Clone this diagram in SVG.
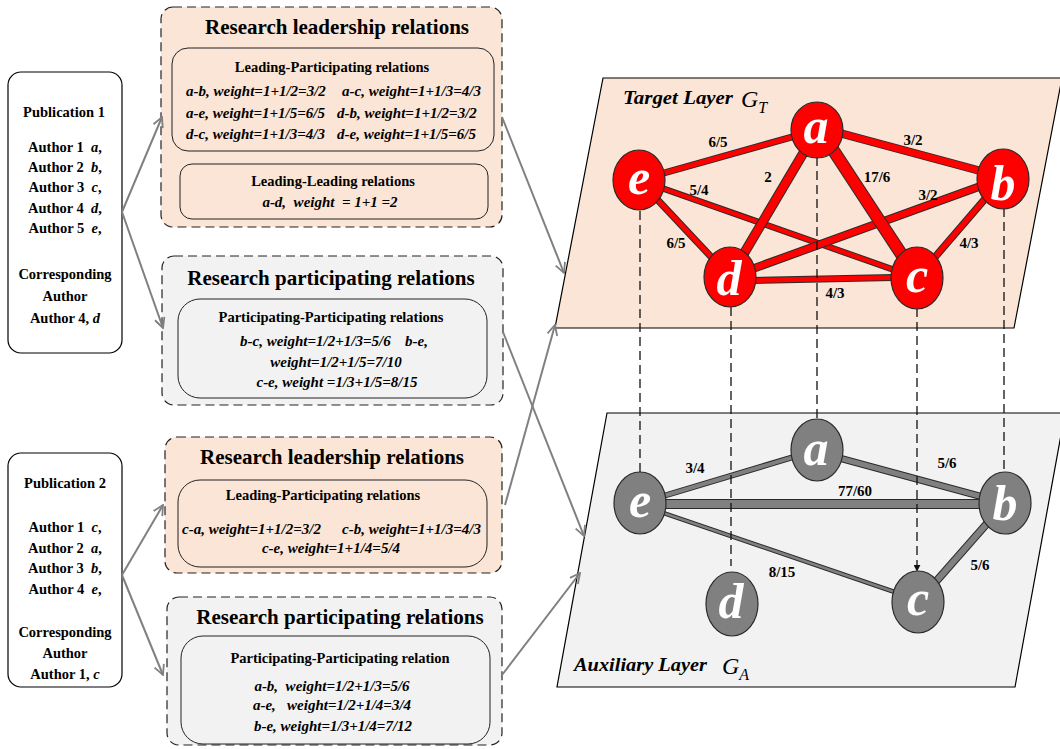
<svg xmlns="http://www.w3.org/2000/svg" width="1060" height="749" viewBox="0 0 1060 749">
<style>
.t{font-family:"Liberation Serif","Times New Roman",serif;font-weight:bold;fill:#000}
.c{text-anchor:middle}
.h{font-size:21px}
.s{font-size:14.5px}
.w{font-size:15px;font-style:italic}
.p{font-size:14.5px}
.it{font-style:italic}
.ob{stroke:#222;stroke-width:1.2;stroke-dasharray:9 5}
.peach{fill:#fbe5d6}
.gr{fill:#f2f2f2}
.inner{fill:none;stroke:#222;stroke-width:1}
.pub{fill:#fff;stroke:#000;stroke-width:1.2}
.arr{stroke:#808080;stroke-width:2;fill:none;marker-end:url(#oa)}
.dash{stroke:#111;stroke-width:1.3;stroke-dasharray:9 5;fill:none}
.layer{stroke:#000;stroke-width:1.2}
.eo{stroke:#2a2a2a;stroke-linecap:butt}
.er{stroke:#ff0000;stroke-linecap:butt}
.eg{stroke:#808080;stroke-linecap:butt}
.lbl{font-size:15px}
.nr{fill:#ff0000;stroke:#2a2a2a;stroke-width:1.2}
.ng{fill:#808080;stroke:#2a2a2a;stroke-width:1.2}
.nl{font-family:"Liberation Serif","Times New Roman",serif;font-weight:bold;font-style:italic;font-size:50px;fill:#fff;text-anchor:middle}
.ll{font-size:19px;font-style:italic}
.gm{font-family:"Liberation Serif","Times New Roman",serif;font-style:italic;fill:#000}
</style>
<defs>
<marker id="oa" viewBox="0 0 12 12" refX="11" refY="6" markerWidth="12" markerHeight="12" markerUnits="userSpaceOnUse" orient="auto">
<path d="M1,1 L11,6 L1,11" fill="none" stroke="#808080" stroke-width="1.8"/>
</marker>
<marker id="fa" viewBox="0 0 10 10" refX="9" refY="5" markerWidth="7" markerHeight="7" markerUnits="userSpaceOnUse" orient="auto">
<path d="M0,0 L10,5 L0,10 z" fill="#111"/>
</marker>
</defs>
<rect width="1060" height="749" fill="#fff"/>

<!-- layers -->
<g id="target-layer">
<polygon class="layer" points="603,78 1062,78 1014,328 555,328" fill="#fbe5d6"/>
<text class="t ll" x="623" y="104" textLength="110" lengthAdjust="spacingAndGlyphs">Target Layer</text>
<text class="gm" x="741" y="107" font-size="24">G<tspan font-size="16" dy="6">T</tspan></text>
</g>
<g id="auxiliary-layer">
<polygon class="layer" points="607,413 1065,413 1015,687 557,687" fill="#f2f2f2"/>
<text class="t ll" x="574" y="671" textLength="133" lengthAdjust="spacingAndGlyphs">Auxiliary Layer</text>
<text class="gm" x="722" y="674" font-size="24">G<tspan font-size="16" dy="6">A</tspan></text>
</g>

<!-- publication boxes -->
<g id="pub1">
<rect class="pub" x="8" y="72" width="114" height="281" rx="13"/>
<text class="t p c" x="64" y="117">Publication 1</text>
<text class="t p c" x="65" y="152" xml:space="preserve">Author 1  <tspan class="it">a</tspan>,</text>
<text class="t p c" x="65" y="172" xml:space="preserve">Author 2  <tspan class="it">b</tspan>,</text>
<text class="t p c" x="65" y="192" xml:space="preserve">Author 3  <tspan class="it">c</tspan>,</text>
<text class="t p c" x="65" y="213" xml:space="preserve">Author 4  <tspan class="it">d</tspan>,</text>
<text class="t p c" x="65" y="233" xml:space="preserve">Author 5  <tspan class="it">e</tspan>,</text>
<text class="t p c" x="65" y="279">Corresponding</text>
<text class="t p c" x="65" y="301">Author</text>
<text class="t p c" x="65" y="323">Author 4, <tspan class="it">d</tspan></text>
</g>
<g id="pub2">
<rect class="pub" x="8" y="453" width="114" height="234" rx="13"/>
<text class="t p c" x="65" y="488">Publication 2</text>
<text class="t p c" x="65" y="532" xml:space="preserve">Author 1  <tspan class="it">c</tspan>,</text>
<text class="t p c" x="65" y="553" xml:space="preserve">Author 2  <tspan class="it">a</tspan>,</text>
<text class="t p c" x="65" y="573" xml:space="preserve">Author 3  <tspan class="it">b</tspan>,</text>
<text class="t p c" x="65" y="594" xml:space="preserve">Author 4  <tspan class="it">e</tspan>,</text>
<text class="t p c" x="65" y="637">Corresponding</text>
<text class="t p c" x="65" y="658">Author</text>
<text class="t p c" x="65" y="679">Author 1, <tspan class="it">c</tspan></text>
</g>

<!-- relation boxes -->
<g id="lead1">
<rect class="ob peach" x="161" y="7" width="341" height="220" rx="12"/>
<text class="t h c" x="337" y="34">Research leadership relations</text>
<rect class="inner" x="172" y="48" width="322" height="103" rx="16"/>
<text class="t s c" x="332" y="72">Leading-Participating relations</text>
<text class="t w" x="186" y="96">a-b, weight=1+1/2=3/2</text>
<text class="t w" x="342" y="96">a-c, weight=1+1/3=4/3</text>
<text class="t w" x="186" y="118">a-e, weight=1+1/5=6/5</text>
<text class="t w" x="337" y="118">d-b, weight=1+1/2=3/2</text>
<text class="t w" x="186" y="139">d-c, weight=1+1/3=4/3</text>
<text class="t w" x="337" y="139">d-e, weight=1+1/5=6/5</text>
<rect class="inner" x="180" y="164" width="308" height="55" rx="12"/>
<text class="t s c" x="333" y="186">Leading-Leading relations</text>
<text class="t w c" x="330" y="207" xml:space="preserve">a-d,  weight  = 1+1 =2</text>
</g>
<g id="part1">
<rect class="ob gr" x="162" y="256" width="341" height="149" rx="12"/>
<text class="t h c" x="331" y="285">Research participating relations</text>
<rect class="inner" x="178" y="299" width="309" height="99" rx="22"/>
<text class="t s c" x="331" y="322">Participating-Participating relations</text>
<text class="t w" x="240" y="346">b-c, weight=1/2+1/3=5/6</text>
<text class="t w" x="405" y="346">b-e,</text>
<text class="t w c" x="336" y="367">weight=1/2+1/5=7/10</text>
<text class="t w c" x="337" y="387">c-e, weight =1/3+1/5=8/15</text>
</g>
<g id="lead2">
<rect class="ob peach" x="165" y="437" width="337" height="136" rx="12"/>
<text class="t h c" x="332" y="464">Research leadership relations</text>
<rect class="inner" x="178" y="480" width="309" height="87" rx="22"/>
<text class="t s c" x="323" y="500">Leading-Participating relations</text>
<text class="t w" x="182" y="534">c-a, weight=1+1/2=3/2</text>
<text class="t w" x="342" y="534">c-b, weight=1+1/3=4/3</text>
<text class="t w c" x="331" y="553">c-e, weight=1+1/4=5/4</text>
</g>
<g id="part2">
<rect class="ob gr" x="167" y="597" width="335" height="148" rx="12"/>
<text class="t h c" x="340" y="624">Research participating relations</text>
<rect class="inner" x="181" y="636" width="309" height="108" rx="22"/>
<text class="t s c" x="340" y="663">Participating-Participating relation</text>
<text class="t w c" x="332" y="691" xml:space="preserve">a-b,  weight=1/2+1/3=5/6</text>
<text class="t w c" x="332" y="710" xml:space="preserve">a-e,   weight=1/2+1/4=3/4</text>
<text class="t w c" x="333" y="731">b-e, weight=1/3+1/4=7/12</text>
</g>

<!-- connectors -->
<g id="connectors">
<line class="arr" x1="122" y1="212" x2="162" y2="117"/>
<line class="arr" x1="122" y1="212" x2="163" y2="328"/>
<line class="arr" x1="122" y1="575" x2="163" y2="505"/>
<line class="arr" x1="122" y1="575" x2="163" y2="675"/>
<line class="arr" x1="502" y1="117" x2="564" y2="273"/>
<line class="arr" x1="503" y1="332" x2="584" y2="536"/>
<line class="arr" x1="505" y1="505" x2="555" y2="325"/>
<line class="arr" x1="502" y1="675" x2="580" y2="573"/>

<!-- target edges -->
<g id="t-edges">
<line class="eo" x1="817" y1="130" x2="639" y2="180" stroke-width="7"/><line class="er" x1="817" y1="130" x2="639" y2="180" stroke-width="5"/>
<line class="eo" x1="817" y1="127" x2="1003" y2="177" stroke-width="8.5"/><line class="er" x1="817" y1="127" x2="1003" y2="177" stroke-width="6.5"/>
<line class="eo" x1="639" y1="180" x2="917" y2="278" stroke-width="6.5"/><line class="er" x1="639" y1="180" x2="917" y2="278" stroke-width="4.5"/>
<line class="eo" x1="639" y1="180" x2="730" y2="277" stroke-width="7"/><line class="er" x1="639" y1="180" x2="730" y2="277" stroke-width="5"/>
<line class="eo" x1="730" y1="277" x2="1003" y2="178" stroke-width="8.5"/><line class="er" x1="730" y1="277" x2="1003" y2="178" stroke-width="6.5"/>
<line class="eo" x1="1003" y1="178" x2="917" y2="278" stroke-width="7.5"/><line class="er" x1="1003" y1="178" x2="917" y2="278" stroke-width="5.5"/>
<line class="eo" x1="730" y1="281" x2="917" y2="277" stroke-width="7"/><line class="er" x1="730" y1="281" x2="917" y2="277" stroke-width="5"/>
<line class="eo" x1="817" y1="130" x2="730" y2="277" stroke-width="10"/><line class="er" x1="817" y1="130" x2="730" y2="277" stroke-width="8"/>
<line class="eo" x1="820" y1="130" x2="917" y2="278" stroke-width="13"/><line class="er" x1="820" y1="130" x2="917" y2="278" stroke-width="11"/>
</g>
<!-- auxiliary edges -->
<g id="a-edges">
<line class="eo" x1="817" y1="450" x2="640" y2="503" stroke-width="6"/><line class="eg" x1="817" y1="450" x2="640" y2="503" stroke-width="4"/>
<line class="eo" x1="817" y1="452" x2="1005" y2="503" stroke-width="7"/><line class="eg" x1="817" y1="452" x2="1005" y2="503" stroke-width="5"/>
<line class="eo" x1="640" y1="504" x2="1005" y2="504" stroke-width="10"/><line class="eg" x1="640" y1="504" x2="1005" y2="504" stroke-width="8"/>
<line class="eo" x1="640" y1="505" x2="918" y2="600" stroke-width="4.5"/><line class="eg" x1="640" y1="505" x2="918" y2="600" stroke-width="2.5"/>
<line class="eo" x1="1005" y1="503" x2="918" y2="602" stroke-width="8"/><line class="eg" x1="1005" y1="503" x2="918" y2="602" stroke-width="6"/>
</g>
<!-- inter-layer dashed links -->
<g id="links">
<line class="dash" x1="640" y1="211" x2="640" y2="472"/>
<line class="dash" x1="731" y1="307" x2="731" y2="566"/>
<line class="dash" x1="817" y1="157" x2="817" y2="419"/>
<line class="dash" x1="917" y1="308" x2="917" y2="571" marker-end="url(#fa)"/>
<line class="dash" x1="1004" y1="208" x2="1004" y2="472"/>
</g>
</g>

<!-- edge labels -->
<g id="edge-labels">
<text class="t lbl c" x="718" y="147">6/5</text>
<text class="t lbl c" x="913" y="145">3/2</text>
<text class="t lbl c" x="768" y="182">2</text>
<text class="t lbl c" x="877" y="182">17/6</text>
<text class="t lbl c" x="699" y="195">5/4</text>
<text class="t lbl c" x="928" y="200">3/2</text>
<text class="t lbl c" x="676" y="248">6/5</text>
<text class="t lbl c" x="969" y="248">4/3</text>
<text class="t lbl c" x="835" y="298">4/3</text>
<text class="t lbl c" x="695" y="473">3/4</text>
<text class="t lbl c" x="947" y="468">5/6</text>
<text class="t lbl c" x="855" y="496">77/60</text>
<text class="t lbl c" x="782" y="577">8/15</text>
<text class="t lbl c" x="980" y="570">5/6</text>
</g>

<!-- target nodes -->
<g id="ta"><ellipse class="nr" cx="817" cy="130" rx="26" ry="28"/><text class="nl" x="816" y="143">a</text></g>
<g id="te"><ellipse class="nr" cx="639" cy="180" rx="26" ry="30"/><text class="nl" x="639" y="194">e</text></g>
<g id="tb"><ellipse class="nr" cx="1003" cy="179" rx="26" ry="30"/><text class="nl" x="1003" y="200">b</text></g>
<g id="td"><ellipse class="nr" cx="730" cy="277" rx="26" ry="30"/><text class="nl" x="729" y="295">d</text></g>
<g id="tc"><ellipse class="nr" cx="917" cy="278" rx="26" ry="31"/><text class="nl" x="917" y="292">c</text></g>
<!-- auxiliary nodes -->
<g id="aa"><ellipse class="ng" cx="817" cy="450" rx="26" ry="31"/><text class="nl" x="816" y="465">a</text></g>
<g id="ae"><ellipse class="ng" cx="640" cy="503" rx="26" ry="31"/><text class="nl" x="640" y="517">e</text></g>
<g id="ab"><ellipse class="ng" cx="1005" cy="503" rx="26" ry="31"/><text class="nl" x="1005" y="520">b</text></g>
<g id="ad"><ellipse class="ng" cx="732" cy="604" rx="26" ry="32"/><text class="nl" x="731" y="618">d</text></g>
<g id="ac"><ellipse class="ng" cx="918" cy="602" rx="26" ry="31"/><text class="nl" x="918" y="615">c</text></g>
</svg>
